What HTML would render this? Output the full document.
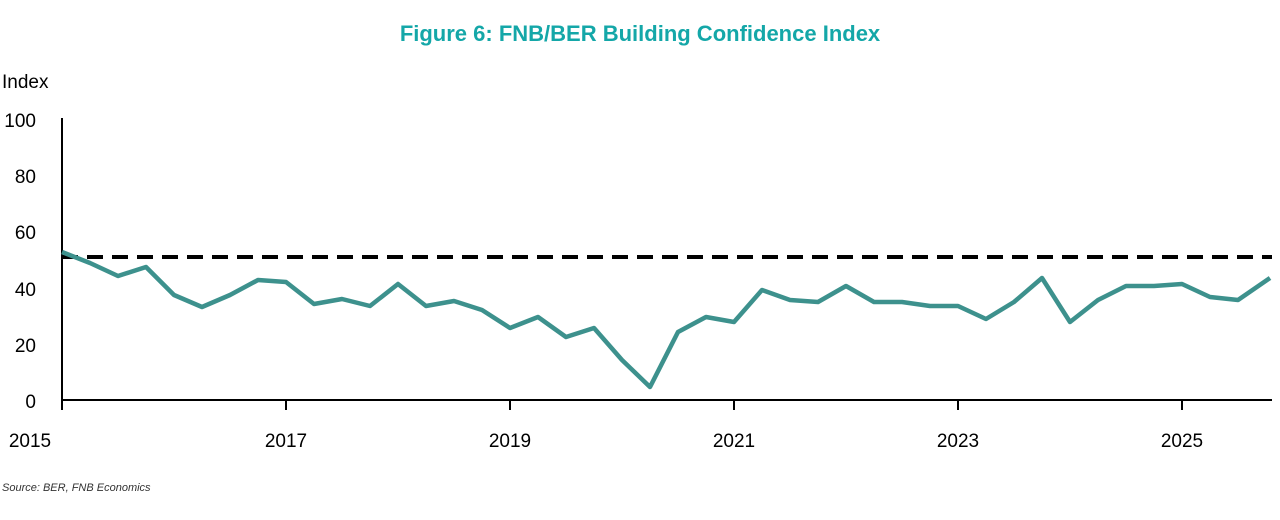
<!DOCTYPE html>
<html><head><meta charset="utf-8"><style>
html,body{margin:0;padding:0;background:#fff;width:1280px;height:520px;overflow:hidden}
svg{display:block}
text{font-family:"Liberation Sans",sans-serif}
</style></head><body>
<svg width="1280" height="520" viewBox="0 0 1280 520">
<text x="640" y="41" text-anchor="middle" font-size="22" font-weight="bold" fill="#14a7a8">Figure 6: FNB/BER Building Confidence Index</text>
<text x="2" y="88" font-size="19" fill="#000">Index</text>
<g font-size="19" fill="#000" text-anchor="end">
<text x="36" y="127">100</text>
<text x="36" y="183">80</text>
<text x="36" y="239">60</text>
<text x="36" y="296">40</text>
<text x="36" y="352">20</text>
<text x="36" y="408">0</text>
</g>
<line x1="62" y1="118" x2="62" y2="401" stroke="#000" stroke-width="2"/>
<line x1="61" y1="400" x2="1272" y2="400" stroke="#000" stroke-width="2"/>
<g stroke="#000" stroke-width="2">
<line x1="62" y1="400" x2="62" y2="410"/><line x1="286" y1="400" x2="286" y2="410"/>
<line x1="510" y1="400" x2="510" y2="410"/><line x1="734" y1="400" x2="734" y2="410"/>
<line x1="958" y1="400" x2="958" y2="410"/><line x1="1182" y1="400" x2="1182" y2="410"/>
</g>
<g font-size="19" fill="#000" text-anchor="middle">
<text x="30" y="447">2015</text><text x="286" y="447">2017</text><text x="510" y="447">2019</text>
<text x="734" y="447">2021</text><text x="958" y="447">2023</text><text x="1182" y="447">2025</text>
</g>
<line x1="62" y1="257" x2="1272" y2="257" stroke="#000" stroke-width="4" stroke-dasharray="16,9"/>
<polyline fill="none" stroke="#3d918d" stroke-width="4.5" stroke-linejoin="round" points="62,252 90,263 118,276 146,267 174,295 202,307 230,295 258,280 286,282 314,304 342,299 370,306 398,284 426,306 454,301 482,310 510,328 538,317 566,337 594,328 622,360 650,387 678,332 706,317 734,322 762,290 790,300 818,302 846,286 874,302 902,302 930,306 958,306 986,319 1014,302 1042,278 1070,322 1098,300 1126,286 1154,286 1182,284 1210,297 1238,300 1270,278"/>
<text x="2" y="491" font-size="11" font-style="italic" fill="#333">Source: BER, FNB Economics</text>
</svg>
</body></html>
